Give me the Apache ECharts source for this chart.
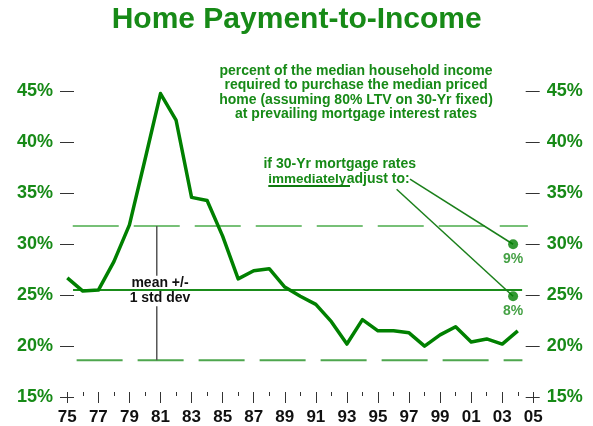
<!DOCTYPE html>
<html>
<head>
<meta charset="utf-8">
<script src="https://cdn.jsdelivr.net/npm/echarts@6/dist/echarts.min.js"></script>
<style>
  html, body { margin: 0; padding: 0; background: #fff; }
  #chart { width: 593px; height: 426px; }
</style>
</head>
<body>
<div id="chart"></div>
<script>
// data
const baseYear = 1975;
const years = [1975, 1976, 1977, 1978, 1979, 1980, 1981, 1982, 1983, 1984,
               1985, 1986, 1987, 1988, 1989, 1990, 1991, 1992, 1993, 1994,
               1995, 1996, 1997, 1998, 1999, 2000, 2001, 2002, 2003, 2004];
const paymentPct = [26.7, 25.4, 25.5, 28.3, 31.9, 38.3, 44.8, 42.2, 34.6, 34.3,
                    30.8, 26.6, 27.4, 27.6, 25.8, 24.9, 24.1, 22.4, 20.2, 22.6,
                    21.5, 21.5, 21.3, 20.0, 21.1, 21.9, 20.4, 20.7, 20.2, 21.5];
const meanPct = 25.5;
const upperBand = 31.8;
const lowerBand = 18.6;
const scenarioYear = 2003.7;
const scenarioLabels = ['9%', '8%'];
const scenarioPct = [30.0, 24.9];
const yTicks = [15, 45, 5]; // min, max, step

const green = '#008000';
const textGreen = '#178a17';
const font = 'Liberation Sans, Arial, sans-serif';
const x = (yr) => yr - baseYear;

const chart = echarts.init(document.getElementById('chart'));

const yAxisCommon = {
    type: 'value',
    min: yTicks[0],
    max: yTicks[1],
    interval: yTicks[2],
    axisLine: { show: false },
    axisTick: { show: true, length: 14, lineStyle: { color: '#333', width: 1 } },
    splitLine: { show: false },
    axisLabel: {
        margin: 21,
        color: textGreen,
        fontSize: 18,
        fontWeight: 'bold',
        fontFamily: font,
        formatter: '{value}%',
    },
};

function seg(p1, p2, style) {
    return {
        type: 'line',
        silent: true,
        symbol: 'none',
        data: [p1, p2],
        lineStyle: style,
        z: 1,
    };
}

function txt(text, px, py, size, color, extra) {
    return {
        type: 'text', x: px, y: py,
        style: Object.assign({
            text: text,
            align: 'center', verticalAlign: 'middle',
            fontSize: size, fontWeight: 'bold', fontFamily: font,
            fill: color,
        }, extra || {}),
    };
}

const option = {
    animation: false,
    grid: { left: 67.3, right: 59.7, top: 91.5, bottom: 28.5 },
    xAxis: {
        type: 'value',
        min: 0,
        max: 30,
        interval: 2,
        offset: -5,
        axisLine: { show: false },
        axisTick: { show: true, length: 11, lineStyle: { color: '#333', width: 1 } },
        minorTick: { show: true, splitNumber: 2, length: 4, lineStyle: { color: '#333', width: 1 } },
        splitLine: { show: false },
        axisLabel: {
            margin: 17,
            color: '#111',
            fontSize: 17,
            fontWeight: 'bold',
            fontFamily: font,
            formatter: (v) => String((v + baseYear) % 100).padStart(2, '0'),
        },
    },
    yAxis: [
        Object.assign({}, yAxisCommon, { position: 'left', offset: -6.7 }),
        Object.assign({}, yAxisCommon, { position: 'right', offset: -7.6 }),
    ],
    series: [
        // mean and +/- 1 std dev bands
        seg([x(1975.35), upperBand], [x(2004.65), upperBand], { color: '#77c077', width: 2, type: [46, 15] }),
        seg([x(1975.6), lowerBand], [x(2004.3), lowerBand], { color: '#4ea64e', width: 2, type: [46, 15] }),
        seg([x(1975.37), meanPct], [x(2004.28), meanPct], { color: '#1a8c1a', width: 2 }),
        // std dev bracket line
        seg([x(1980.76), upperBand], [x(1980.76), 26.9], { color: '#555', width: 1.5 }),
        seg([x(1980.76), 23.9], [x(1980.76), lowerBand], { color: '#555', width: 1.5 }),
        // leaders from the note to the scenario points
        seg([x(1997.06), 36.4], [x(scenarioYear), scenarioPct[0]], { color: '#1a7f1a', width: 1.5 }),
        seg([x(1996.2), 35.4], [x(scenarioYear), scenarioPct[1]], { color: '#1a7f1a', width: 1.5 }),
        {
            name: 'Payment-to-Income',
            type: 'line',
            data: years.map((yr, i) => [x(yr), paymentPct[i]]),
            symbol: 'none',
            lineStyle: { color: green, width: 3.5, join: 'round' },
            z: 3,
        },
        {
            type: 'scatter',
            data: scenarioPct.map((v, i) => ({ value: [x(scenarioYear), v], name: scenarioLabels[i] })),
            symbolSize: 10,
            itemStyle: { color: green },
            label: {
                show: true,
                position: 'bottom',
                distance: 3,
                formatter: '{b}',
                color: textGreen,
                fontSize: 14,
                fontWeight: 'bold',
                fontFamily: font,
            },
            z: 4,
        },
    ],
    graphic: [
        txt('Home Payment-to-Income', 296.7, 20, 30, textGreen),
        txt('percent of the median household income\nrequired to purchase the median priced\nhome (assuming 80% LTV on 30-Yr fixed)\nat prevailing mortgage interest rates',
            356, 64, 14, textGreen, { verticalAlign: 'top', lineHeight: 14.4 }),
        txt('if 30-Yr mortgage rates', 339.7, 164, 14, textGreen),
        txt('immediately', 268.3, 179, 13.5, textGreen, { align: 'left' }),
        txt('adjust to:', 346.7, 179, 14, textGreen, { align: 'left' }),
        {
            type: 'line',
            shape: { x1: 268.3, y1: 186, x2: 350, y2: 186 },
            style: { stroke: '#0f7a0f', lineWidth: 2 },
        },
        txt('mean +/-\n1 std dev', 160, 291, 14, '#111', { lineHeight: 15 }),
    ],
};

chart.setOption(option);
</script>
</body>
</html>
